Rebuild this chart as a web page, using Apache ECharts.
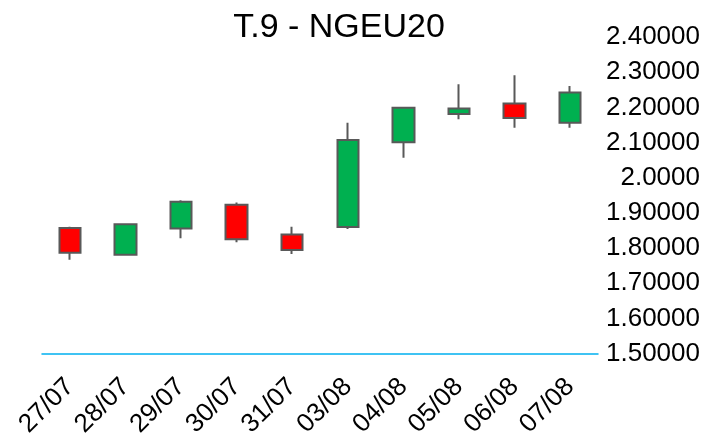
<!DOCTYPE html>
<html>
<head>
<meta charset="utf-8">
<script src="https://cdn.jsdelivr.net/npm/echarts@6/dist/echarts.min.js"></script>
<style>
    html, body { margin: 0; padding: 0; background: #fff; }
    #chart { width: 709px; height: 440px; }
</style>
</head>
<body>
<div id="chart"></div>
<script>
// dates on the x axis
var days = ["27/07", "28/07", "29/07", "30/07", "31/07", "03/08", "04/08", "05/08", "06/08", "07/08"];
// one value per day
var openVals = [1.857, 1.781, 1.856, 1.923, 1.839, 1.860, 2.101, 2.181, 2.211, 2.156];
var closeVals = [1.787, 1.868, 1.932, 1.825, 1.795, 2.107, 2.199, 2.197, 2.170, 2.242];
var lowVals = [1.767, 1.778, 1.828, 1.817, 1.783, 1.854, 2.057, 2.166, 2.142, 2.142];
var highVals = [1.861, 1.868, 1.936, 1.930, 1.861, 2.156, 2.201, 2.266, 2.291, 2.261];

var chartDom = document.getElementById("chart");
var myChart = echarts.init(chartDom, null, { renderer: "canvas" });
var font = "'Liberation Sans', Arial, sans-serif";

// echarts wants [open, close, lowest, highest]
var kdata = [];
days.forEach(function (d, i) {
    kdata.push([openVals[i], closeVals[i], lowVals[i], highVals[i]]);
});

var option = {
    backgroundColor: "#fff",
    animation: false,
    title: {
        text: "T.9 - NGEU20",
        left: 334,
        textAlign: "center",
        top: 6,
        textStyle: { fontFamily: font, fontSize: 34, fontWeight: "normal", color: "#000" },
    },
    grid: { left: 42, right: 111, top: 37, bottom: 85, containLabel: false },
    xAxis: {
        type: "category",
        data: days,
        boundaryGap: true,
        axisLine: { lineStyle: { color: "#00B0F0", width: 1.5 } },
        axisTick: { show: false },
        axisLabel: {
            interval: 0,
            rotate: 45,
            margin: 29,
            color: "#000",
            fontFamily: font,
            fontSize: 26,
        },
        splitLine: { show: false },
    },
    yAxis: {
        type: "value",
        position: "right",
        min: 1.5,
        max: 2.4,
        interval: 0.1,
        axisLine: { show: false },
        axisTick: { show: false },
        splitLine: { show: false },
        axisLabel: {
            align: "right",
            margin: 102,
            color: "#000",
            fontFamily: font,
            fontSize: 26,
            formatter: function (v) {
                if (Math.abs(v - 2) < 1e-9) return "2.0000"; // the picture shows this one with 4 decimals
                return v.toFixed(5);
            },
        },
    },
    series: [
        {
            type: "candlestick",
            data: kdata,
            barWidth: 22,
            itemStyle: {
                color: "#00B050",
                color0: "#FF0000",
                borderColor: "#595959",
                borderColor0: "#595959",
                borderWidth: 2,
            },
        },
    ],
};
myChart.setOption(option);
</script>
</body>
</html>
